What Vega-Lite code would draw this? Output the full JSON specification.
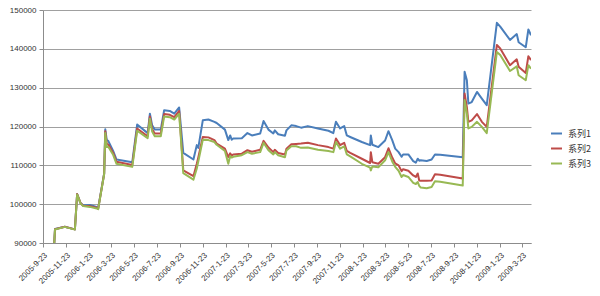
{
  "$schema": "https://vega.github.io/schema/vega-lite/v6.json",
  "width": 488,
  "height": 233,
  "autosize": {"type": "none"},
  "padding": {"left": 43, "top": 10, "right": 69, "bottom": 53},
  "background": "white",
  "data": {
    "values": [
      {"d": "2005-10-23", "系列1": 90000, "系列2": 90000, "系列3": 90000},
      {"d": "2005-10-25", "系列1": 93600, "系列2": 93550, "系列3": 93500},
      {"d": "2005-11-20", "系列1": 94200, "系列2": 94200, "系列3": 94150},
      {"d": "2005-12-17", "系列1": 93500, "系列2": 93500, "系列3": 93450},
      {"d": "2005-12-23", "系列1": 102600, "系列2": 102600, "系列3": 102500},
      {"d": "2006-01-01", "系列1": 100300, "系列2": 100300, "系列3": 100200},
      {"d": "2006-01-08", "系列1": 99700, "系列2": 99600, "系列3": 99500},
      {"d": "2006-01-26", "系列1": 99800, "系列2": 99500, "系列3": 99300},
      {"d": "2006-02-13", "系列1": 99300, "系列2": 99100, "系列3": 98900},
      {"d": "2006-02-17", "系列1": 98900, "系列2": 98800, "系列3": 98700},
      {"d": "2006-03-05", "系列1": 107900, "系列2": 107800, "系列3": 107700},
      {"d": "2006-03-08", "系列1": 119300, "系列2": 118800, "系列3": 118300},
      {"d": "2006-03-12", "系列1": 116500, "系列2": 115500, "系列3": 114700},
      {"d": "2006-03-16", "系列1": 116300, "系列2": 115400, "系列3": 114800},
      {"d": "2006-03-29", "系列1": 113700, "系列2": 113200, "系列3": 112700},
      {"d": "2006-04-07", "系列1": 111500, "系列2": 110900, "系列3": 110400},
      {"d": "2006-05-19", "系列1": 110800, "系列2": 110100, "系列3": 109600},
      {"d": "2006-06-01", "系列1": 120500, "系列2": 119500, "系列3": 118900},
      {"d": "2006-06-29", "系列1": 118300, "系列2": 117500, "系列3": 117000},
      {"d": "2006-07-05", "系列1": 123300, "系列2": 122600, "系列3": 122000},
      {"d": "2006-07-11", "系列1": 120300, "系列2": 119300, "系列3": 118700},
      {"d": "2006-07-18", "系列1": 119200, "系列2": 118200, "系列3": 117500},
      {"d": "2006-08-03", "系列1": 119200, "系列2": 118200, "系列3": 117500},
      {"d": "2006-08-12", "系列1": 124200, "系列2": 123200, "系列3": 122600},
      {"d": "2006-08-27", "系列1": 124000, "系列2": 123000, "系列3": 122400},
      {"d": "2006-09-08", "系列1": 123300, "系列2": 122400, "系列3": 121800},
      {"d": "2006-09-21", "系列1": 124900, "系列2": 124000, "系列3": 123300},
      {"d": "2006-10-02", "系列1": 113200, "系列2": 108700, "系列3": 108000},
      {"d": "2006-10-29", "系列1": 111500, "系列2": 107200, "系列3": 106300},
      {"d": "2006-11-07", "系列1": 115200, "系列2": 110400, "系列3": 109200},
      {"d": "2006-11-11", "系列1": 114500, "系列2": 112000, "系列3": 111000},
      {"d": "2006-11-23", "系列1": 121600, "系列2": 117300, "系列3": 116600},
      {"d": "2006-12-08", "系列1": 121800, "系列2": 117200, "系列3": 116500},
      {"d": "2006-12-24", "系列1": 121200, "系列2": 116500, "系列3": 116000},
      {"d": "2006-12-30", "系列1": 120900, "系列2": 115600, "系列3": 115300},
      {"d": "2007-01-21", "系列1": 119200, "系列2": 114300, "系列3": 113700},
      {"d": "2007-01-30", "系列1": 116500, "系列2": 112100, "系列3": 110400},
      {"d": "2007-02-04", "系列1": 117700, "系列2": 113100, "系列3": 112400},
      {"d": "2007-02-08", "系列1": 116600, "系列2": 112500, "系列3": 112000},
      {"d": "2007-02-12", "系列1": 116900, "系列2": 112800, "系列3": 112200},
      {"d": "2007-03-07", "系列1": 117000, "系列2": 113000, "系列3": 112600},
      {"d": "2007-03-22", "系列1": 118300, "系列2": 113900, "系列3": 113400},
      {"d": "2007-04-03", "系列1": 117700, "系列2": 113500, "系列3": 113000},
      {"d": "2007-04-25", "系列1": 118200, "系列2": 114000, "系列3": 113400},
      {"d": "2007-05-04", "系列1": 121400, "系列2": 116300, "系列3": 115800},
      {"d": "2007-05-17", "系列1": 119200, "系列2": 114600, "系列3": 113900},
      {"d": "2007-05-30", "系列1": 118200, "系列2": 113400, "系列3": 112800},
      {"d": "2007-06-03", "系列1": 119000, "系列2": 114000, "系列3": 113400},
      {"d": "2007-06-12", "系列1": 118000, "系列2": 113200, "系列3": 112600},
      {"d": "2007-06-30", "系列1": 117600, "系列2": 112800, "系列3": 112100},
      {"d": "2007-07-04", "系列1": 119000, "系列2": 114300, "系列3": 113800},
      {"d": "2007-07-17", "系列1": 120300, "系列2": 115400, "系列3": 114900},
      {"d": "2007-07-30", "系列1": 120100, "系列2": 115500, "系列3": 114900},
      {"d": "2007-08-12", "系列1": 119700, "系列2": 115600, "系列3": 114500},
      {"d": "2007-08-30", "系列1": 120100, "系列2": 115800, "系列3": 114600},
      {"d": "2007-09-26", "系列1": 119500, "系列2": 115200, "系列3": 114000},
      {"d": "2007-10-24", "系列1": 118900, "系列2": 114700, "系列3": 113700},
      {"d": "2007-11-06", "系列1": 118300, "系列2": 114300, "系列3": 113400},
      {"d": "2007-11-13", "系列1": 121200, "系列2": 116900, "系列3": 116000},
      {"d": "2007-11-24", "系列1": 119500, "系列2": 115200, "系列3": 114300},
      {"d": "2007-12-05", "系列1": 120100, "系列2": 115800, "系列3": 114900},
      {"d": "2007-12-12", "系列1": 117700, "系列2": 113700, "系列3": 112800},
      {"d": "2007-12-21", "系列1": 117300, "系列2": 113200, "系列3": 112300},
      {"d": "2008-01-21", "系列1": 116000, "系列2": 111700, "系列3": 110400},
      {"d": "2008-02-12", "系列1": 115200, "系列2": 110600, "系列3": 109400},
      {"d": "2008-02-14", "系列1": 117700, "系列2": 113400, "系列3": 108700},
      {"d": "2008-02-18", "系列1": 115300, "系列2": 110800, "系列3": 109700},
      {"d": "2008-03-05", "系列1": 114700, "系列2": 110400, "系列3": 109500},
      {"d": "2008-03-23", "系列1": 116400, "系列2": 112100, "系列3": 111300},
      {"d": "2008-04-01", "系列1": 118800, "系列2": 114400, "系列3": 113400},
      {"d": "2008-04-11", "系列1": 116500, "系列2": 112000, "系列3": 111000},
      {"d": "2008-04-19", "系列1": 114300, "系列2": 110500, "系列3": 109600},
      {"d": "2008-04-28", "系列1": 113400, "系列2": 110000, "系列3": 108600},
      {"d": "2008-05-06", "系列1": 112200, "系列2": 108500, "系列3": 107000},
      {"d": "2008-05-10", "系列1": 112800, "系列2": 109000, "系列3": 107500},
      {"d": "2008-05-24", "系列1": 112800, "系列2": 108600, "系列3": 107000},
      {"d": "2008-06-06", "系列1": 111100, "系列2": 107400, "系列3": 105500},
      {"d": "2008-06-13", "系列1": 110700, "系列2": 107000, "系列3": 105200},
      {"d": "2008-06-18", "系列1": 111700, "系列2": 107900, "系列3": 105700},
      {"d": "2008-06-22", "系列1": 111200, "系列2": 106100, "系列3": 104700},
      {"d": "2008-06-26", "系列1": 111300, "系列2": 106000, "系列3": 104300},
      {"d": "2008-07-12", "系列1": 111100, "系列2": 106000, "系列3": 104100},
      {"d": "2008-07-25", "系列1": 111500, "系列2": 106100, "系列3": 104400},
      {"d": "2008-08-03", "系列1": 112800, "系列2": 107700, "系列3": 105900},
      {"d": "2008-08-17", "系列1": 112700, "系列2": 107600, "系列3": 105800},
      {"d": "2008-10-16", "系列1": 112100, "系列2": 106600, "系列3": 104800},
      {"d": "2008-10-21", "系列1": 134100, "系列2": 128500, "系列3": 126800},
      {"d": "2008-10-27", "系列1": 131900, "系列2": 125000, "系列3": 123400},
      {"d": "2008-10-31", "系列1": 125900, "系列2": 121200, "系列3": 119500},
      {"d": "2008-11-09", "系列1": 126300, "系列2": 121600, "系列3": 119900},
      {"d": "2008-11-23", "系列1": 128900, "系列2": 123200, "系列3": 121200},
      {"d": "2008-12-06", "系列1": 127200, "系列2": 121200, "系列3": 119900},
      {"d": "2008-12-19", "系列1": 125500, "系列2": 119900, "系列3": 118300},
      {"d": "2009-01-15", "系列1": 146700, "系列2": 141000, "系列3": 139200},
      {"d": "2009-01-24", "系列1": 145700, "系列2": 140100, "系列3": 138400},
      {"d": "2009-02-19", "系列1": 142300, "系列2": 135800, "系列3": 134300},
      {"d": "2009-03-09", "系列1": 143800, "系列2": 137300, "系列3": 135500},
      {"d": "2009-03-14", "系列1": 141700, "系列2": 135400, "系列3": 133200},
      {"d": "2009-04-02", "系列1": 140400, "系列2": 133800, "系列3": 131900},
      {"d": "2009-04-09", "系列1": 145000, "系列2": 138100, "系列3": 135800},
      {"d": "2009-04-16", "系列1": 143500, "系列2": 137100, "系列3": 134900}
    ]
  },
  "transform": [{"fold": ["系列1", "系列2", "系列3"], "as": ["series", "value"]}],
  "mark": {"type": "line", "strokeWidth": 2, "strokeJoin": "round", "clip": true},
  "encoding": {
    "x": {
      "field": "d",
      "type": "temporal",
      "scale": {
        "type": "utc",
        "domain": [
          {"year": 2005, "month": 9, "date": 23, "utc": true},
          {"year": 2009, "month": 4, "date": 16, "utc": true}
        ],
        "nice": false
      },
      "axis": {
        "title": null,
        "values": [
          {"year": 2005, "month": 9, "date": 23, "utc": true},
          {"year": 2005, "month": 11, "date": 23, "utc": true},
          {"year": 2006, "month": 1, "date": 23, "utc": true},
          {"year": 2006, "month": 3, "date": 23, "utc": true},
          {"year": 2006, "month": 5, "date": 23, "utc": true},
          {"year": 2006, "month": 7, "date": 23, "utc": true},
          {"year": 2006, "month": 9, "date": 23, "utc": true},
          {"year": 2006, "month": 11, "date": 23, "utc": true},
          {"year": 2007, "month": 1, "date": 23, "utc": true},
          {"year": 2007, "month": 3, "date": 23, "utc": true},
          {"year": 2007, "month": 5, "date": 23, "utc": true},
          {"year": 2007, "month": 7, "date": 23, "utc": true},
          {"year": 2007, "month": 9, "date": 23, "utc": true},
          {"year": 2007, "month": 11, "date": 23, "utc": true},
          {"year": 2008, "month": 1, "date": 23, "utc": true},
          {"year": 2008, "month": 3, "date": 23, "utc": true},
          {"year": 2008, "month": 5, "date": 23, "utc": true},
          {"year": 2008, "month": 7, "date": 23, "utc": true},
          {"year": 2008, "month": 9, "date": 23, "utc": true},
          {"year": 2008, "month": 11, "date": 23, "utc": true},
          {"year": 2009, "month": 1, "date": 23, "utc": true},
          {"year": 2009, "month": 3, "date": 23, "utc": true}
        ],
        "format": "%Y-%-m-%-d",
        "labelAngle": -45,
        "labelAlign": "right",
        "labelBaseline": "top",
        "labelPadding": 4,
        "labelOverlap": false,
        "labelFlush": false,
        "grid": false,
        "tickSize": 4,
        "domainColor": "#8c8c8c",
        "tickColor": "#8c8c8c"
      }
    },
    "y": {
      "field": "value",
      "type": "quantitative",
      "scale": {"domain": [90000, 150000], "nice": false, "zero": false},
      "axis": {
        "title": null,
        "values": [90000, 100000, 110000, 120000, 130000, 140000, 150000],
        "format": "d",
        "grid": true,
        "gridColor": "#a0a0a0",
        "gridWidth": 1,
        "tickSize": 4,
        "labelPadding": 3,
        "domainColor": "#8c8c8c",
        "tickColor": "#8c8c8c"
      }
    },
    "color": {
      "field": "series",
      "type": "nominal",
      "scale": {"domain": ["系列1", "系列2", "系列3"], "range": ["#4A7EBB", "#BE4B48", "#98B954"]},
      "legend": {
        "title": null,
        "orient": "none",
        "legendX": 507,
        "legendY": 117,
        "symbolType": "stroke",
        "symbolSize": 120,
        "symbolStrokeWidth": 2,
        "rowPadding": 3,
        "labelOffset": 5,
        "labelFontSize": 9,
        "labelColor": "#333333",
        "labelFont": "Noto Sans CJK SC"
      }
    }
  },
  "config": {
    "view": {"stroke": null},
    "axis": {"labelFont": "Liberation Sans", "labelFontSize": 8, "labelColor": "#333333"}
  }
}
